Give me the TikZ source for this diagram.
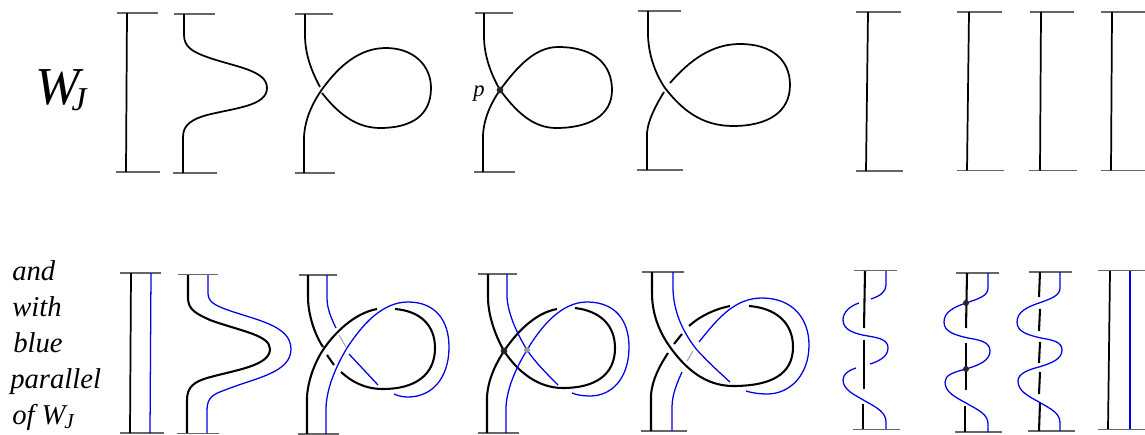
\documentclass[tikz,border=0pt]{standalone}
\usepackage{fontspec}
\setmainfont{Liberation Serif}
\tikzset{
  bk/.style={line width=1.55pt,black},
  bkt/.style={line width=1.3pt,black},
  bl/.style={line width=.95pt,blue!90!black},
  gr/.style={line width=.8pt,black!35},
  barline/.style={line width=1.15pt,black!60},
  dotnode/.style={circle,fill=black!85,inner sep=0pt,minimum size=#1},
  lbl/.style={font=\fontsize{21.5}{24}\selectfont\itshape,anchor=base west,inner sep=0pt},
}
\newcommand{\myrule}[3]{\draw[barline] (#1,#3) -- (#2,#3);}
\begin{document}
\begin{tikzpicture}[x=.75pt,y=-.75pt]
\useasboundingbox (0,0) rectangle (1145,435);
% labels
\node[anchor=base west,inner sep=0pt,font=\fontsize{40}{44}\selectfont\itshape] (wj) at (35,104) {W\kern-6pt\raisebox{-4.5pt}{\fontsize{25}{28}\selectfont J}};
\node[lbl] (t1) at (12,280) {and};
\node[lbl] (t2) at (12,316) {with};
\node[lbl] (t3) at (13,352) {blue};
\node[lbl] (t4) at (10,388) {parallel};
\node[lbl] (t5) at (12,424) {of W\kern-1pt\raisebox{-3pt}{\fontsize{16}{18}\selectfont J}};
\node[anchor=base west,inner sep=0pt,font=\fontsize{17}{20}\selectfont\itshape] (p) at (473,96) {p};
% ---- top row ----
\myrule{117}{158}{13}\myrule{116}{160}{172}
\draw[bkt] (127,13) -- (126,172);
\myrule{174}{215}{14}\myrule{173}{217}{173}
\draw[bkt] (184,14) -- (184,35) .. controls (184,47) and (193,52) .. (207,57) .. controls (235,67) and (267,70) .. (267,88) .. controls (267,106) and (235,108) .. (207,115) .. controls (193,119) and (183,124) .. (183,137) -- (183,173);
\myrule{295}{333}{14}\myrule{295}{335}{173}
\draw[bkt] (305,14) -- (305,35) .. controls (305,55) and (312,72) .. (320,87);
\draw[bkt] (304,173) -- (304,137) .. controls (305,118) and (313,102) .. (323,88) .. controls (340,65) and (360,48) .. (386,48) .. controls (413,48) and (431,65) .. (431,88) .. controls (431,115) and (412,128) .. (380,128) .. controls (355,128) and (337,112) .. (322,93);
\myrule{475}{513}{13}\myrule{474}{515}{172}
\draw[bkt] (484,13) -- (484,36) .. controls (484,56) and (491,74) .. (500,90);
\draw[bkt] (483,172) -- (483,135) .. controls (484,118) and (491,103) .. (500,90) .. controls (517,67) and (535,47) .. (558,47) .. controls (595,47) and (612,65) .. (612,90) .. controls (612,115) and (590,128) .. (556,128) .. controls (532,128) and (515,110) .. (500,90);
\node[dotnode=5pt] (dt) at (500,90) {};
\myrule{638}{681}{11}\myrule{637}{683}{170}
\draw[bkt] (648,11) -- (648,33) .. controls (648,55) and (656,75) .. (665,88) .. controls (682,110) and (702,126) .. (733,126) .. controls (768,126) and (790,112) .. (790,85) .. controls (790,60) and (772,44) .. (740,44) .. controls (712,44) and (690,60) .. (670,83);
\draw[bkt] (647,170) -- (647,133) .. controls (648,120) and (656,105) .. (664,92);
\myrule{856}{901}{12}\myrule{856}{903}{171}\draw[bkt] (868,12) -- (866,171);
\myrule{957}{1002}{12}\myrule{957}{1004}{170.5}\draw[bkt] (969,12) -- (967,170.5);
\myrule{1030}{1074}{12}\myrule{1029}{1077}{170.5}\draw[bkt] (1041,12) -- (1040,170.5);
\myrule{1101}{1145}{12}\myrule{1101}{1145}{170.5}\draw[bkt] (1112,12) -- (1111,170.5);
% ---- bottom row ----
\myrule{120}{161}{273}\myrule{120}{164}{433}
\draw[bkt] (131,273) -- (130,433);
\draw[bl] (151,273) -- (150,433);
\myrule{178}{218}{274.5}\myrule{177}{219}{433.5}
\draw[bk] (188,275) -- (188,298) .. controls (188,310) and (197,314) .. (210,320) .. controls (240,331) and (270,335) .. (270,349) .. controls (270,366) and (235,370) .. (207,378) .. controls (194,382) and (187,387) .. (187,400) -- (187,433);
\draw[bl] (208,275) -- (208,293) .. controls (208,302) and (215,305) .. (225,309) .. controls (255,320) and (291,325) .. (291,349) .. controls (291,373) and (255,378) .. (225,390) .. controls (214,394) and (207,397) .. (207,410) -- (207,433);
% B3
\myrule{299}{337}{275}\myrule{298}{339}{434}
\draw[bk] (308,275) -- (308,297) .. controls (308,315) and (315,335) .. (323,347);
\draw[bk] (327,355) -- (334,365);
\draw[bk] (341,372) .. controls (352,382) and (365,389) .. (383,389) .. controls (415,389) and (435,375) .. (435,348) .. controls (435,325) and (420,311) .. (395,309);
\draw[bk] (307,434) -- (307,397) .. controls (308,380) and (315,362) .. (323,350) .. controls (335,332) and (355,313) .. (377,309);
\draw[bl] (327,275) -- (327,298) .. controls (327,308) and (331,318) .. (336,328);
\draw[gr] (339,335) -- (346,347);
\draw[bl] (349,354) -- (378,385);
\draw[bl] (326,434) -- (326,410) .. controls (326,390) and (335,368) .. (347,348) .. controls (362,325) and (382,302) .. (408,302) .. controls (435,302) and (449,320) .. (449,347) .. controls (449,378) and (432,397) .. (408,397) .. controls (403,397) and (398,396) .. (394,394);
% B4
\myrule{478}{517}{274}\myrule{478}{519}{433}
\draw[bk] (488,274) -- (488,297) .. controls (488,315) and (495,335) .. (504,351) .. controls (518,372) and (538,388) .. (563,388) .. controls (595,388) and (615,375) .. (615,348) .. controls (615,325) and (600,311) .. (575,308);
\draw[bk] (487,433) -- (487,397) .. controls (488,380) and (495,365) .. (504,351) .. controls (517,332) and (535,313) .. (557,309);
\draw[bl] (507,274) -- (507,297) .. controls (508,315) and (518,335) .. (527,350) .. controls (535,362) and (548,375) .. (558,385);
\draw[bl] (506,433) -- (506,407) .. controls (507,388) and (516,368) .. (527,350) .. controls (542,325) and (562,302) .. (587,302) .. controls (615,302) and (629,320) .. (629,347) .. controls (629,378) and (612,396) .. (590,396) .. controls (583,396) and (577,395) .. (572,393);
\node[dotnode=5pt] (dk) at (504,351) {};
\node[dotnode=4.5pt,fill=black!40] (dg) at (527,350) {};
% B5
\myrule{642}{684}{272}\myrule{641}{687}{431}
\draw[bk] (652,272) -- (652,293) .. controls (652,315) and (660,333) .. (670,347) .. controls (685,368) and (705,386) .. (733,386) .. controls (770,386) and (793,375) .. (793,347) .. controls (793,322) and (775,308) .. (749,306);
\draw[bk] (651,431) -- (651,395) .. controls (652,380) and (660,365) .. (668,353);
\draw[bk] (674,344) -- (682,334);
\draw[bk] (689,326) .. controls (700,316) and (715,309) .. (730,306);
\draw[bl] (673,272) -- (673,290) .. controls (674,315) and (685,335) .. (697,350) .. controls (708,362) and (720,373) .. (730,382);
\draw[bl] (672,431) -- (672,407) .. controls (672,395) and (677,383) .. (682,372);
\draw[gr] (687,361) -- (693,351);
\draw[bl] (699,342) .. controls (718,318) and (735,298) .. (762,298) .. controls (792,298) and (809,318) .. (809,345) .. controls (809,375) and (790,394) .. (767,394) .. controls (760,394) and (752,393) .. (746,391);
% B6
\myrule{854}{897}{270.5}\myrule{853}{900}{429.5}
\draw[bk] (865,271) -- (864,328); \draw[bk] (864,340) -- (864,389); \draw[bk] (863,404) -- (863,429);
\draw[bl] (886,271) -- (886,285) .. controls (886,292) and (880,296) .. (871,299);
\draw[bl] (859,303) .. controls (850,306) and (843,312) .. (843,320) .. controls (843,330) and (855,334) .. (868,336) .. controls (880,338) and (888,340) .. (888,348) .. controls (888,356) and (880,361) .. (870,364);
\draw[bl] (856,368) .. controls (849,370) and (843,374) .. (843,380) .. controls (843,390) and (855,395) .. (865,401) .. controls (878,408) and (886,413) .. (886,422) -- (886,429);
% B7
\myrule{956}{999}{273}\myrule{955}{1002}{432}
\draw[bk] (967,273) -- (966,328); \draw[bk] (966,343) -- (966,390); \draw[bk] (965,406) -- (965,432);
\draw[bl] (988,273) -- (988,288) .. controls (988,296) and (978,299) .. (966,303) .. controls (954,307) and (944,312) .. (944,322) .. controls (944,332) and (955,335) .. (968,338) .. controls (980,340) and (990,342) .. (990,351) .. controls (990,360) and (980,365) .. (966,369) .. controls (954,372) and (945,375) .. (945,382) .. controls (945,392) and (955,397) .. (966,403) .. controls (978,410) and (988,414) .. (988,424) -- (988,432);
\node[dotnode=4.5pt] (d1) at (966,303) {};
\node[dotnode=4.5pt] (d2) at (966,369) {};
% B8
\myrule{1029}{1072}{272}\myrule{1028}{1075}{431}
\foreach \ya/\yb in {272/297,309/331,342/363,372/394,403/431} \draw[bk] (1040,\ya) -- (1039,\yb);
\draw[bl] (1060,272) -- (1060,288) .. controls (1060,296) and (1050,299) .. (1039,303) .. controls (1027,307) and (1017,312) .. (1017,322) .. controls (1017,332) and (1028,335) .. (1041,338) .. controls (1053,340) and (1062,342) .. (1062,350) .. controls (1062,359) and (1052,363) .. (1039,367) .. controls (1027,370) and (1018,374) .. (1018,381) .. controls (1018,391) and (1028,396) .. (1039,402) .. controls (1051,409) and (1060,413) .. (1060,423) -- (1060,431);
% B9
\myrule{1098}{1145}{270.5}\myrule{1098}{1145}{429.5}
\draw[bkt] (1110,271) -- (1108,429);
\draw[bl] (1130,271) -- (1130,429);
\end{tikzpicture}
\end{document}
